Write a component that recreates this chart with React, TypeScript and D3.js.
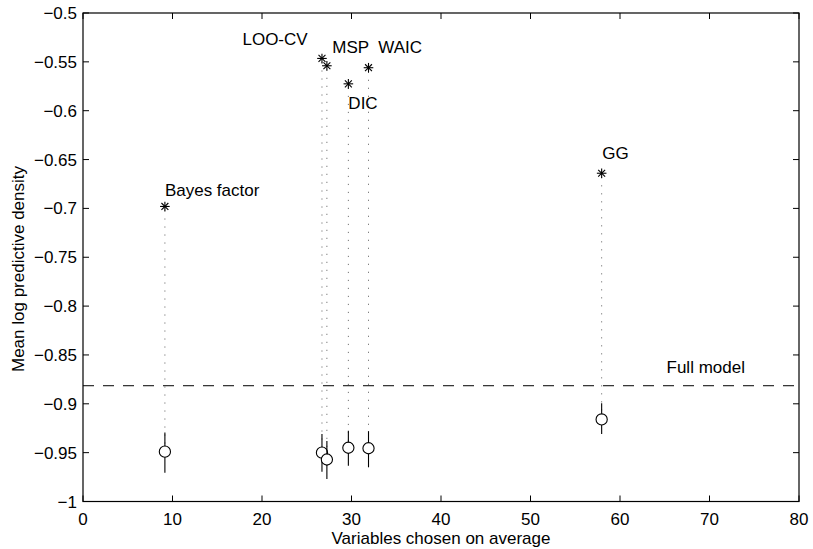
import React, { useEffect, useRef } from 'react';
import * as d3 from 'd3';

// --- Data ---
const methods = ['Bayes factor', 'LOO-CV', 'MSP', 'DIC', 'WAIC', 'GG'];
const varsChosen = [9.15, 26.7, 27.25, 29.65, 31.9, 57.95];
const trainScore = [-0.698, -0.5465, -0.554, -0.5725, -0.556, -0.664];
const testScore = [-0.949, -0.95, -0.957, -0.945, -0.9455, -0.916];
const testLow = [-0.9705, -0.9695, -0.977, -0.9635, -0.965, -0.931];
const testHigh = [-0.9295, -0.931, -0.938, -0.9275, -0.928, -0.8995];
const fullModel = -0.8815;
const xTicks = [0, 10, 20, 30, 40, 50, 60, 70, 80];
const yTicks = [-0.5, -0.55, -0.6, -0.65, -0.7, -0.75, -0.8, -0.85, -0.9, -0.95, -1];

const fmt = (v: number) => (v < 0 ? '\u2212' + String(Math.abs(v)) : String(v));

const Chart = () => {
  const svgRef = useRef<SVGSVGElement>(null);

  useEffect(() => {
    const svg = d3.select(svgRef.current);
    svg.selectAll('*').remove();

    const margin = { top: 13, right: 14, bottom: 47.5, left: 83 };
    const W = 813, H = 549;
    const width = W - margin.left - margin.right;
    const height = H - margin.top - margin.bottom;

    const x = d3.scaleLinear().domain([0, 80]).range([0, width]);
    const y = d3.scaleLinear().domain([-1, -0.5]).range([height, 0]);

    const g = svg.append('g').attr('transform', `translate(${margin.left},${margin.top})`);
    const font = 'Liberation Sans, Arial, Helvetica, sans-serif';
    const fs = 17;

    // label offsets (px) from each asterisk: [dx, dy of baseline]
    const labelOff = [[0, -10.5], [-79.5, -13.4], [5.4, -12.5], [0, 25.2], [9.8, -14.4], [0.7, -13.9]];

    // frame
    g.append('rect').attr('width', width).attr('height', height)
      .attr('fill', 'none').attr('stroke', '#000').attr('stroke-width', 1.2);

    const tl = 6;
    xTicks.forEach(t => {
      g.append('line').attr('x1', x(t)).attr('x2', x(t)).attr('y1', height).attr('y2', height - tl).attr('stroke', '#000');
      g.append('line').attr('x1', x(t)).attr('x2', x(t)).attr('y1', 0).attr('y2', tl).attr('stroke', '#000');
      g.append('text').attr('x', x(t)).attr('y', height + 23).attr('text-anchor', 'middle')
        .attr('font-family', font).attr('font-size', fs).text(fmt(t));
    });
    yTicks.forEach(t => {
      g.append('line').attr('x1', 0).attr('x2', tl).attr('y1', y(t)).attr('y2', y(t)).attr('stroke', '#000');
      g.append('line').attr('x1', width).attr('x2', width - tl).attr('y1', y(t)).attr('y2', y(t)).attr('stroke', '#000');
      g.append('text').attr('x', -6).attr('y', y(t) + 6).attr('text-anchor', 'end')
        .attr('font-family', font).attr('font-size', fs).text(fmt(t));
    });

    // axis labels
    g.append('text').attr('x', width / 2).attr('y', height + 42).attr('text-anchor', 'middle')
      .attr('font-family', font).attr('font-size', fs).text('Variables chosen on average');
    g.append('text').attr('transform', `translate(${-59},${256}) rotate(-90)`).attr('text-anchor', 'middle')
      .attr('font-family', font).attr('font-size', fs).text('Mean log predictive density');

    // full model dashed line
    g.append('line').attr('x1', 0).attr('x2', width).attr('y1', y(fullModel)).attr('y2', y(fullModel))
      .attr('stroke', '#000').attr('stroke-dasharray', '11,9').attr('stroke-width', 1);
    g.append('text').attr('x', x(65.2)).attr('y', y(fullModel) - 13)
      .attr('font-family', font).attr('font-size', fs).text('Full model');

    methods.forEach((m, i) => {
      const cx = x(varsChosen[i]);
      // dotted connector
      g.append('line').attr('x1', cx).attr('x2', cx).attr('y1', y(trainScore[i]) + 4).attr('y2', y(testScore[i]) - 6)
        .attr('stroke', '#777').attr('stroke-dasharray', '1.2,6.8').attr('stroke-width', 1);
      // error bar
      g.append('line').attr('x1', cx).attr('x2', cx).attr('y1', y(testHigh[i])).attr('y2', y(testLow[i]))
        .attr('stroke', '#000').attr('stroke-width', 1.1);
      // circle
      g.append('circle').attr('cx', cx).attr('cy', y(testScore[i])).attr('r', 5.6)
        .attr('fill', '#fff').attr('stroke', '#000').attr('stroke-width', 1.1);
      // asterisk
      const cy = y(trainScore[i]);
      const s = 4.8;
      const k = s * 0.72;
      const star = g.append('g').attr('stroke', '#000').attr('stroke-width', 1.1);
      star.append('line').attr('x1', cx - s).attr('x2', cx + s).attr('y1', cy).attr('y2', cy);
      star.append('line').attr('x1', cx).attr('x2', cx).attr('y1', cy - s).attr('y2', cy + s);
      star.append('line').attr('x1', cx - k).attr('x2', cx + k).attr('y1', cy - k).attr('y2', cy + k);
      star.append('line').attr('x1', cx - k).attr('x2', cx + k).attr('y1', cy + k).attr('y2', cy - k);
      // label
      const [dx, dy] = labelOff[i];
      g.append('text').attr('x', cx + dx).attr('y', cy + dy)
        .attr('font-family', font).attr('font-size', fs).text(m);
    });
  }, []);

  return <svg ref={svgRef} width={813} height={549} style={{ display: 'block' }}></svg>;
};

export default function App() {
  return (
    <div style={{ position: 'absolute', left: 0, top: 0, background: '#fff' }}>
      <Chart />
    </div>
  );
}
